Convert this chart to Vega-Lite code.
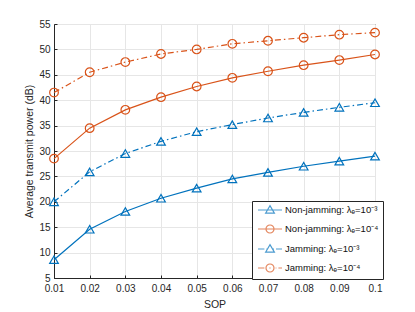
{
  "$schema": "https://vega.github.io/schema/vega-lite/v6.json",
  "autosize": {"type": "none"},
  "padding": {"left": 54, "top": 24, "right": 40, "bottom": 34},
  "width": 321,
  "height": 254,
  "background": "white",
  "data": {
    "values": [
      {"sop": 0.01, "power": 8.6, "series": "Non-jamming: λₑ=10⁻³", "grp": "nj3"},
      {"sop": 0.02, "power": 14.6, "series": "Non-jamming: λₑ=10⁻³", "grp": "nj3"},
      {"sop": 0.03, "power": 18.1, "series": "Non-jamming: λₑ=10⁻³", "grp": "nj3"},
      {"sop": 0.04, "power": 20.7, "series": "Non-jamming: λₑ=10⁻³", "grp": "nj3"},
      {"sop": 0.05, "power": 22.7, "series": "Non-jamming: λₑ=10⁻³", "grp": "nj3"},
      {"sop": 0.06, "power": 24.5, "series": "Non-jamming: λₑ=10⁻³", "grp": "nj3"},
      {"sop": 0.07, "power": 25.8, "series": "Non-jamming: λₑ=10⁻³", "grp": "nj3"},
      {"sop": 0.08, "power": 27.0, "series": "Non-jamming: λₑ=10⁻³", "grp": "nj3"},
      {"sop": 0.09, "power": 28.0, "series": "Non-jamming: λₑ=10⁻³", "grp": "nj3"},
      {"sop": 0.1, "power": 29.0, "series": "Non-jamming: λₑ=10⁻³", "grp": "nj3"},
      {"sop": 0.01, "power": 28.5, "series": "Non-jamming: λₑ=10⁻⁴", "grp": "nj4"},
      {"sop": 0.02, "power": 34.5, "series": "Non-jamming: λₑ=10⁻⁴", "grp": "nj4"},
      {"sop": 0.03, "power": 38.1, "series": "Non-jamming: λₑ=10⁻⁴", "grp": "nj4"},
      {"sop": 0.04, "power": 40.6, "series": "Non-jamming: λₑ=10⁻⁴", "grp": "nj4"},
      {"sop": 0.05, "power": 42.7, "series": "Non-jamming: λₑ=10⁻⁴", "grp": "nj4"},
      {"sop": 0.06, "power": 44.4, "series": "Non-jamming: λₑ=10⁻⁴", "grp": "nj4"},
      {"sop": 0.07, "power": 45.7, "series": "Non-jamming: λₑ=10⁻⁴", "grp": "nj4"},
      {"sop": 0.08, "power": 46.9, "series": "Non-jamming: λₑ=10⁻⁴", "grp": "nj4"},
      {"sop": 0.09, "power": 47.9, "series": "Non-jamming: λₑ=10⁻⁴", "grp": "nj4"},
      {"sop": 0.1, "power": 49.0, "series": "Non-jamming: λₑ=10⁻⁴", "grp": "nj4"},
      {"sop": 0.01, "power": 20.0, "series": "Jamming: λₑ=10⁻³", "grp": "j3"},
      {"sop": 0.02, "power": 25.9, "series": "Jamming: λₑ=10⁻³", "grp": "j3"},
      {"sop": 0.03, "power": 29.5, "series": "Jamming: λₑ=10⁻³", "grp": "j3"},
      {"sop": 0.04, "power": 31.9, "series": "Jamming: λₑ=10⁻³", "grp": "j3"},
      {"sop": 0.05, "power": 33.8, "series": "Jamming: λₑ=10⁻³", "grp": "j3"},
      {"sop": 0.06, "power": 35.2, "series": "Jamming: λₑ=10⁻³", "grp": "j3"},
      {"sop": 0.07, "power": 36.5, "series": "Jamming: λₑ=10⁻³", "grp": "j3"},
      {"sop": 0.08, "power": 37.6, "series": "Jamming: λₑ=10⁻³", "grp": "j3"},
      {"sop": 0.09, "power": 38.6, "series": "Jamming: λₑ=10⁻³", "grp": "j3"},
      {"sop": 0.1, "power": 39.5, "series": "Jamming: λₑ=10⁻³", "grp": "j3"},
      {"sop": 0.01, "power": 41.5, "series": "Jamming: λₑ=10⁻⁴", "grp": "j4"},
      {"sop": 0.02, "power": 45.5, "series": "Jamming: λₑ=10⁻⁴", "grp": "j4"},
      {"sop": 0.03, "power": 47.5, "series": "Jamming: λₑ=10⁻⁴", "grp": "j4"},
      {"sop": 0.04, "power": 49.1, "series": "Jamming: λₑ=10⁻⁴", "grp": "j4"},
      {"sop": 0.05, "power": 50.0, "series": "Jamming: λₑ=10⁻⁴", "grp": "j4"},
      {"sop": 0.06, "power": 51.1, "series": "Jamming: λₑ=10⁻⁴", "grp": "j4"},
      {"sop": 0.07, "power": 51.7, "series": "Jamming: λₑ=10⁻⁴", "grp": "j4"},
      {"sop": 0.08, "power": 52.3, "series": "Jamming: λₑ=10⁻⁴", "grp": "j4"},
      {"sop": 0.09, "power": 52.9, "series": "Jamming: λₑ=10⁻⁴", "grp": "j4"},
      {"sop": 0.1, "power": 53.3, "series": "Jamming: λₑ=10⁻⁴", "grp": "j4"}
    ]
  },
  "encoding": {
    "x": {
      "field": "sop", "type": "quantitative",
      "scale": {"domain": [0.01, 0.1], "nice": false, "zero": false},
      "axis": {
        "title": "SOP",
        "values": [0.01, 0.02, 0.03, 0.04, 0.05, 0.06, 0.07, 0.08, 0.09, 0.1],
        "format": ".2~f",
        "labelFlush": false,
        "tickSize": -3,
        "labelPadding": 8,
        "titlePadding": 6
      }
    },
    "y": {
      "field": "power", "type": "quantitative",
      "scale": {"domain": [5, 55], "nice": false, "zero": false},
      "axis": {
        "title": "Average transmit power (dB)",
        "values": [5, 10, 15, 20, 25, 30, 35, 40, 45, 50, 55],
        "labelFlush": false,
        "tickSize": -3,
        "labelPadding": 7,
        "titlePadding": 4
      }
    }
  },
  "layer": [
    {
      "transform": [{"filter": "datum.grp == 'nj3'"}],
      "mark": {"type": "line", "strokeWidth": 1.2, "color": "#0072BD"}
    },
    {
      "transform": [{"filter": "datum.grp == 'nj4'"}],
      "mark": {"type": "line", "strokeWidth": 1.2, "color": "#D95319"}
    },
    {
      "transform": [{"filter": "datum.grp == 'j3'"}],
      "mark": {"type": "line", "strokeWidth": 1.2, "color": "#0072BD", "strokeDash": [6, 3, 1.5, 3]}
    },
    {
      "transform": [{"filter": "datum.grp == 'j4'"}],
      "mark": {"type": "line", "strokeWidth": 1.2, "color": "#D95319", "strokeDash": [6, 3, 1.5, 3]}
    },
    {
      "transform": [{"filter": "datum.grp == 'nj3' || datum.grp == 'j3'"}],
      "mark": {"type": "point", "shape": "triangle-up", "filled": false, "size": 75, "strokeWidth": 1.2, "opacity": 1, "color": "#0072BD"}
    },
    {
      "transform": [{"filter": "datum.grp == 'nj4' || datum.grp == 'j4'"}],
      "mark": {"type": "point", "shape": "circle", "filled": false, "size": 75, "strokeWidth": 1.2, "opacity": 1, "color": "#D95319"}
    },
    {
      "mark": {"type": "point", "filled": false, "size": 64, "strokeWidth": 1.2, "strokeOpacity": 0},
      "encoding": {
        "color": {
          "field": "series", "type": "nominal",
          "scale": {
            "domain": ["Non-jamming: λₑ=10⁻³", "Non-jamming: λₑ=10⁻⁴", "Jamming: λₑ=10⁻³", "Jamming: λₑ=10⁻⁴"],
            "range": ["#0072BD", "#D95319", "#0072BD", "#D95319"]
          },
          "legend": {"title": null, "orient": "none", "legendX": 198, "legendY": 177}
        },
        "shape": {
          "field": "series", "type": "nominal",
          "scale": {
            "domain": ["Non-jamming: λₑ=10⁻³", "Non-jamming: λₑ=10⁻⁴", "Jamming: λₑ=10⁻³", "Jamming: λₑ=10⁻⁴"],
            "range": [
              "M-3,0H3M-1.1,0.8L0,-1.1L1.1,0.8Z",
              "M-3,0H3M1,0A1,1 0 1,1 -1,0A1,1 0 1,1 1,0",
              "M-3,0H-1.4M-0.9,0H-0.6M0.7,0H1M1.5,0H3M-1.1,0.8L0,-1.1L1.1,0.8Z",
              "M-3,0H-1.4M-0.15,0H0.15M1.4,0H1.6M2.1,0H3M1,0A1,1 0 1,1 -1,0A1,1 0 1,1 1,0"
            ]
          },
          "legend": {"title": null, "orient": "none", "legendX": 198, "legendY": 177}
        }
      }
    }
  ],
  "config": {
    "view": {"stroke": "#262626", "strokeWidth": 1},
    "axis": {
      "labelFont": "Liberation Sans",
      "titleFont": "Liberation Sans",
      "labelFontSize": 10,
      "titleFontSize": 10.5,
      "titleFontWeight": "normal",
      "labelColor": "#262626",
      "titleColor": "#262626",
      "domainColor": "#262626",
      "tickColor": "#262626",
      "gridColor": "#e6e6e6",
      "gridWidth": 1
    },
    "legend": {
      "fillColor": "white",
      "strokeColor": "#262626",
      "padding": 4,
      "symbolOffset": 9,
      "symbolSize": 64,
      "symbolStrokeWidth": 1.2,
      "labelOffset": 10,
      "labelFont": "Liberation Sans",
      "labelFontSize": 9.5,
      "labelColor": "#111111",
      "rowPadding": 6,
      "labelLimit": 200
    }
  }
}
